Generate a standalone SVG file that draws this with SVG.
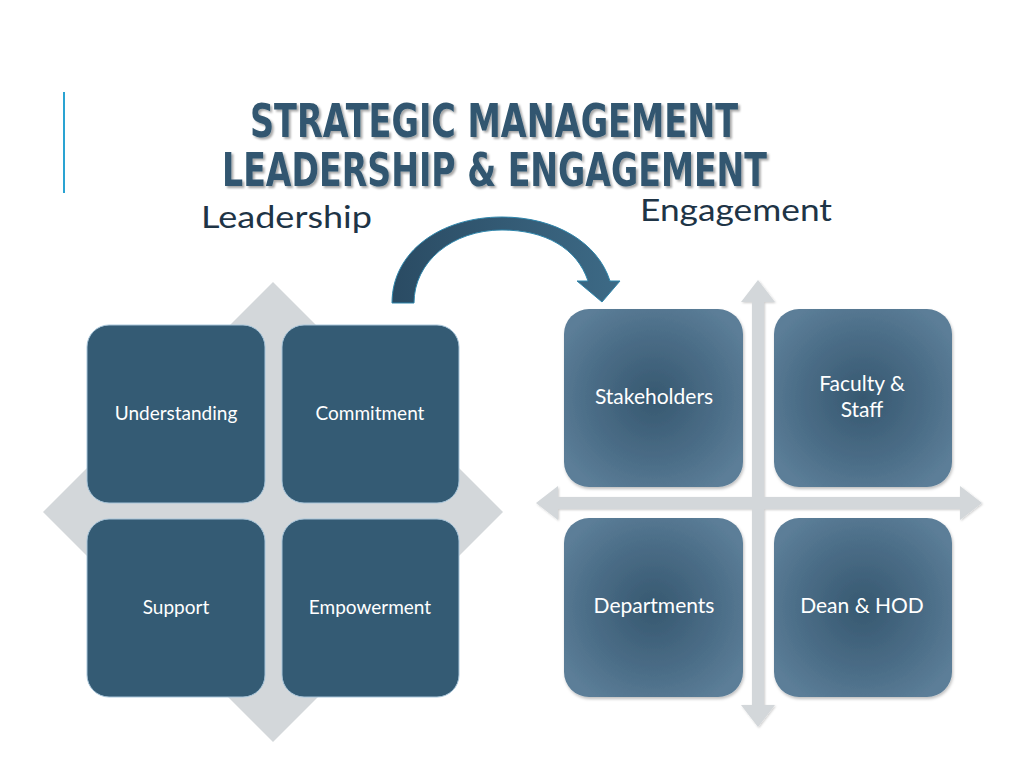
<svg xmlns="http://www.w3.org/2000/svg" width="1024" height="768" viewBox="0 0 1024 768">
<defs>
<style>
.title{font-family:"Liberation Sans Narrow","DejaVu Sans Condensed","Liberation Sans",sans-serif;font-weight:bold;font-size:46px;fill:#30566f;}
.sub{font-family:Lato,"Open Sans","Liberation Sans",sans-serif;font-size:31px;fill:#1e3446;}
.lbl{font-family:Lato,"Open Sans","Liberation Sans",sans-serif;font-size:19px;fill:#ffffff;text-anchor:middle;}
.lbl2{font-family:Lato,"Open Sans","Liberation Sans",sans-serif;font-size:21px;fill:#ffffff;text-anchor:middle;}
.lbox{fill:#345b74;stroke:#a9c6da;stroke-width:1;}
.rbox{fill:url(#rg);filter:url(#sh);}
.cross{fill:#d3d7da;filter:url(#sh2);}
</style>
<radialGradient id="rg" cx="0.5" cy="0.5" r="0.6">
<stop offset="0" stop-color="#365870"/>
<stop offset="0.6" stop-color="#4b6d87"/>
<stop offset="1" stop-color="#5c7e98"/>
</radialGradient>
<linearGradient id="ag" x1="0" y1="0" x2="1" y2="0">
<stop offset="0" stop-color="#2a4b63"/>
<stop offset="1" stop-color="#3d6a86"/>
</linearGradient>
<filter id="ts" x="-5%" y="-20%" width="110%" height="150%">
<feDropShadow dx="2" dy="2" stdDeviation="1.2" flood-color="#000" flood-opacity="0.35"/>
</filter>
<filter id="sh" x="-10%" y="-10%" width="120%" height="120%">
<feDropShadow dx="1" dy="2" stdDeviation="1.5" flood-color="#000" flood-opacity="0.25"/>
</filter>
<filter id="sh2" x="-10%" y="-10%" width="120%" height="120%">
<feDropShadow dx="1" dy="1" stdDeviation="1.2" flood-color="#000" flood-opacity="0.2"/>
</filter>
</defs>
<rect width="1024" height="768" fill="#ffffff"/>
<line x1="64" y1="92" x2="64" y2="193" stroke="#2aa3d2" stroke-width="2"/>
<g id="title" filter="url(#ts)">
<text class="title" x="250" y="137" textLength="488" lengthAdjust="spacingAndGlyphs">STRATEGIC MANAGEMENT</text>
<text class="title" x="222" y="186" textLength="545" lengthAdjust="spacingAndGlyphs">LEADERSHIP &amp; ENGAGEMENT</text>
</g>
<text class="sub" x="201" y="228" textLength="171" lengthAdjust="spacingAndGlyphs">Leadership</text>
<text class="sub" x="640" y="221" textLength="192" lengthAdjust="spacingAndGlyphs">Engagement</text>
<g id="connectors">
<path id="curved-arrow" d="M392,303 C392,252 440,217 502,217 C556,217 598,243 610,281 L620,281 L602,302 L577,281 L588,281 C577,248 545,230 502,230 C452,230 414,262 414,303 Z" fill="url(#ag)" stroke="#2f86ac" stroke-width="1"/>
<polygon class="cross" points="758,280 775,302 764,302 764,497 960,497 960,486 982,503 960,520 960,509 764,509 764,705 775,705 758,727 741,705 752,705 752,509 558,509 558,520 536,503 558,486 558,497 752,497 752,302 741,302"/>
</g>
<polygon id="diamond" points="273,282 503,512 273,742 43,512" fill="#d3d7da"/>
<g id="understanding"><rect class="lbox" x="87" y="325" width="178" height="178" rx="22"/><text class="lbl" x="176" y="420">Understanding</text></g>
<g id="commitment"><rect class="lbox" x="282" y="325" width="177" height="178" rx="22"/><text class="lbl" x="370" y="420">Commitment</text></g>
<g id="support"><rect class="lbox" x="87" y="519" width="178" height="178" rx="22"/><text class="lbl" x="176" y="614">Support</text></g>
<g id="empowerment"><rect class="lbox" x="282" y="519" width="177" height="178" rx="22"/><text class="lbl" x="370" y="614">Empowerment</text></g>
<g id="stakeholders"><rect class="rbox" x="564" y="309" width="179" height="178" rx="25"/><text class="lbl2" x="654" y="404">Stakeholders</text></g>
<g id="faculty"><rect class="rbox" x="774" y="309" width="178" height="178" rx="25"/><text class="lbl2" x="862" y="391">Faculty &amp;</text><text class="lbl2" x="862" y="417">Staff</text></g>
<g id="departments"><rect class="rbox" x="564" y="518" width="179" height="179" rx="25"/><text class="lbl2" x="654" y="613">Departments</text></g>
<g id="dean"><rect class="rbox" x="774" y="518" width="178" height="179" rx="25"/><text class="lbl2" x="862" y="613">Dean &amp; HOD</text></g>
</svg>
